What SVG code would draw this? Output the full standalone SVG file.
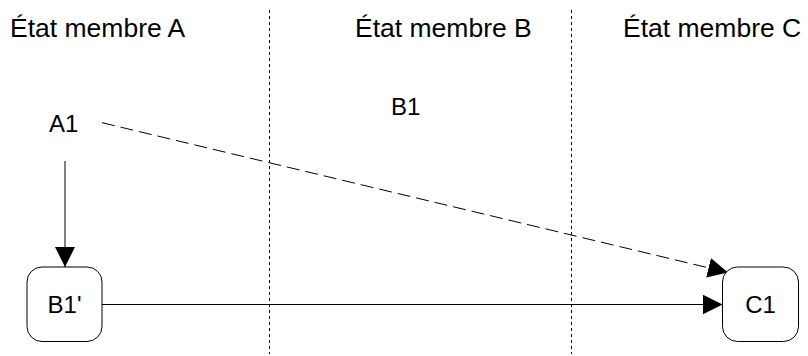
<svg xmlns="http://www.w3.org/2000/svg" width="808" height="356" viewBox="0 0 808 356">
<style>
text{font-family:"Liberation Sans",Arial,sans-serif;fill:#000}
.title{font-size:26.5px}
.lbl{font-size:24px}
.div{stroke:#000;stroke-width:1;stroke-dasharray:3,3;fill:none}
.box{fill:#fff;stroke:#000;stroke-width:1}
.con{stroke:#000;stroke-width:1;fill:none}
</style>
<defs>
<marker id="arr" viewBox="0 0 20 20" refX="20" refY="10" markerWidth="20" markerHeight="20" markerUnits="userSpaceOnUse" orient="auto">
<path d="M0,0 L20,10 L0,20 Z" fill="#000"/>
</marker>
</defs>
<rect width="808" height="356" fill="#fff"/>
<g id="dividers">
<line class="div" x1="269.5" y1="10" x2="269.5" y2="354"/>
<line class="div" x1="571.5" y1="10" x2="571.5" y2="354"/>
</g>
<g id="titles">
<text class="title" x="10" y="36.5">État membre A</text>
<text class="title" x="355" y="36.5">État membre B</text>
<text class="title" x="623" y="36.5">État membre C</text>
</g>
<g id="connectors">
<line class="con" x1="65" y1="161" x2="65" y2="267" marker-end="url(#arr)"/>
<line class="con" x1="102" y1="304.5" x2="722.5" y2="304.5" marker-end="url(#arr)"/>
<line class="con" x1="102" y1="122.7" x2="728" y2="272.5" stroke-dasharray="13,6" marker-end="url(#arr)"/>
</g>
<g id="A1"><text class="lbl" x="49" y="131.5">A1</text></g>
<g id="B1"><text class="lbl" x="391" y="115">B1</text></g>
<g id="B1p">
<rect class="box" x="27" y="267" width="75" height="74.5" rx="15" ry="15"/>
<text class="lbl" x="64.5" y="312.5" text-anchor="middle">B1'</text>
</g>
<g id="C1">
<rect class="box" x="722.5" y="267" width="76" height="74.5" rx="15" ry="15"/>
<text class="lbl" x="760.5" y="312.5" text-anchor="middle">C1</text>
</g>
</svg>
